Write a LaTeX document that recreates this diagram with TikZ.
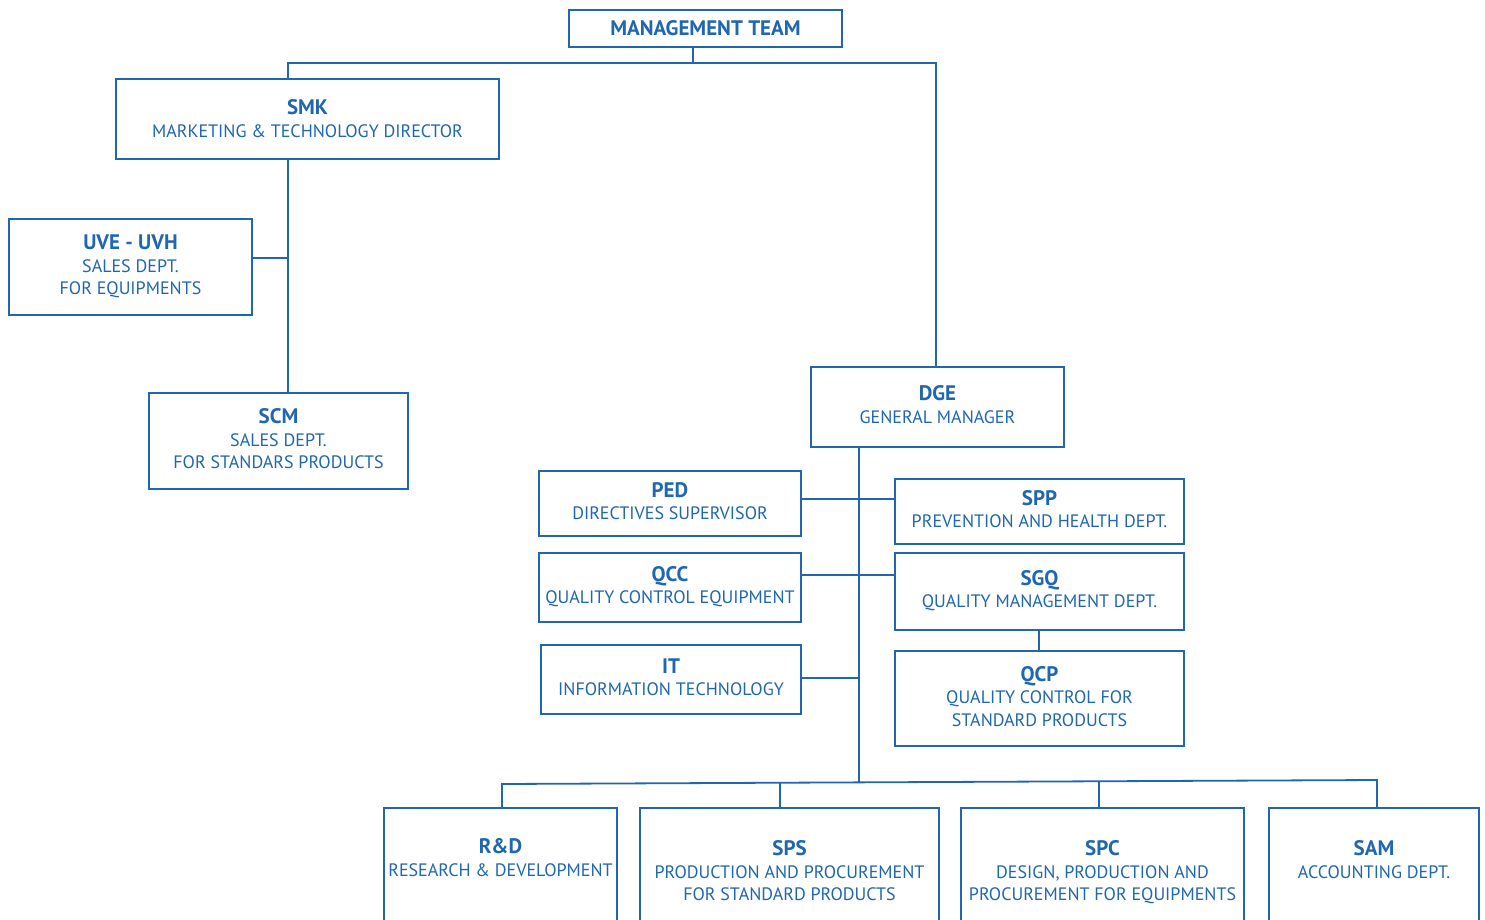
\documentclass[tikz,border=0pt]{standalone}
\usepackage{fontspec}
\setmainfont{PT Sans}
\usetikzlibrary{calc}
\definecolor{orgblue}{RGB}{31,103,177}
\newcommand{\subf}{\fontsize{18}{22.5}\selectfont}
\newcommand{\ttlf}{\fontsize{21}{22.5}\selectfont\bfseries}
\tikzset{
  orgbox/.style={draw=orgblue, line width=2.6pt, inner sep=0pt, outer sep=0pt,
    align=center, text=orgblue, font=\subf, rectangle, text depth=5pt},
  link/.style={draw=orgblue, line width=1.8pt},
  boxlabel/.style={anchor=north, align=center, text=orgblue, font=\subf},
}
\begin{document}
\begin{tikzpicture}[x=1pt,y=-1pt]
\useasboundingbox (0,0) rectangle (1485,920);
\clip (0,0) rectangle (1485,920);
\fill[white] (0,0) rectangle (1485,920);
% boxes
\node[orgbox, minimum width=273, minimum height=37, text depth=1pt] (mgmt) at (705.5,28.5) {{\ttlf MANAGEMENT TEAM}};
\node[orgbox, minimum width=383, minimum height=80, text depth=1pt] (smk) at (307.5,119) {{\ttlf SMK}\\MARKETING \& TECHNOLOGY DIRECTOR};
\node[orgbox, minimum width=243, minimum height=96, text depth=4pt] (uve) at (130.5,267) {{\ttlf UVE - UVH}\\SALES DEPT.\\FOR EQUIPMENTS};
\node[orgbox, minimum width=259, minimum height=96] (scm) at (278.5,441) {{\ttlf SCM}\\SALES DEPT.\\FOR STANDARS PRODUCTS};
\node[orgbox, minimum width=253, minimum height=80] (dge) at (937.5,407) {{\ttlf DGE}\\GENERAL MANAGER};
\node[orgbox, minimum width=262, minimum height=65] (ped) at (670,503.5) {{\ttlf PED}\\DIRECTIVES SUPERVISOR};
\node[orgbox, minimum width=289, minimum height=65] (spp) at (1039.5,511.5) {{\ttlf SPP}\\PREVENTION AND HEALTH DEPT.};
\node[orgbox, minimum width=262, minimum height=69] (qcc) at (670,587.5) {{\ttlf QCC}\\QUALITY CONTROL EQUIPMENT};
\node[orgbox, minimum width=289, minimum height=77] (sgq) at (1039.5,591.5) {{\ttlf SGQ}\\QUALITY MANAGEMENT DEPT.};
\node[orgbox, minimum width=289, minimum height=95] (qcp) at (1039.5,698.5) {{\ttlf QCP}\\QUALITY CONTROL FOR\\STANDARD PRODUCTS};
\node[orgbox, minimum width=260, minimum height=69] (it) at (671,679.5) {{\ttlf IT}\\INFORMATION TECHNOLOGY};
\node[orgbox, minimum width=233, minimum height=132,
  label={[boxlabel, yshift=-27pt]north:{{\ttlf R\&D}\\RESEARCH \& DEVELOPMENT}}] (rd) at (500.5,874) {};
\node[orgbox, minimum width=299, minimum height=132,
  label={[boxlabel, yshift=-29pt]north:{{\ttlf SPS}\\PRODUCTION AND PROCUREMENT\\FOR STANDARD PRODUCTS}}] (sps) at (789.5,874) {};
\node[orgbox, minimum width=283, minimum height=132,
  label={[boxlabel, yshift=-29pt]north:{{\ttlf SPC}\\DESIGN, PRODUCTION AND\\PROCUREMENT FOR EQUIPMENTS}}] (spc) at (1102.5,874) {};
\node[orgbox, minimum width=210, minimum height=132,
  label={[boxlabel, yshift=-29pt]north:{{\ttlf SAM}\\ACCOUNTING DEPT.}}] (sam) at (1374,874) {};
% coordinates
\coordinate (top) at (693,63);
\coordinate (tl) at (288,63);
\coordinate (tr) at (936,63);
\coordinate (sp) at (859,0);
\coordinate (qx) at (1039,0);
\coordinate (row1) at (0,499);
\coordinate (row2) at (0,575);
\coordinate (row3) at (0,678);
\coordinate (bl) at (502,784);
\coordinate (br) at (1377,780);
\coordinate (b2) at ($(bl)!0.318!(br)$);
\coordinate (b3) at ($(bl)!0.408!(br)$);
\coordinate (b4) at ($(bl)!0.6823!(br)$);
% connectors
\draw[link] (top |- mgmt.south) -- (top);
\draw[link] (tl |- smk.north) -- (tl) -- (tr) -- (tr |- dge.north);
\draw[link] (tl |- smk.south) -- (tl |- scm.north);
\draw[link] ([yshift=9pt]uve.east) -- ([yshift=9pt]uve.east -| tl);
\draw[link] (sp |- dge.south) -- (b3);
\draw[link] (ped.east |- row1) -- (spp.west |- row1);
\draw[link] (qcc.east |- row2) -- (sgq.west |- row2);
\draw[link] (it.east |- row3) -- (sp |- row3);
\draw[link] (qx |- sgq.south) -- (qx |- qcp.north);
\draw[link] (bl |- rd.north) -- (bl) -- (br) -- (br |- sam.north);
\draw[link] (b2) -- (b2 |- sps.north);
\draw[link] (b4) -- (b4 |- spc.north);
\end{tikzpicture}
\end{document}
